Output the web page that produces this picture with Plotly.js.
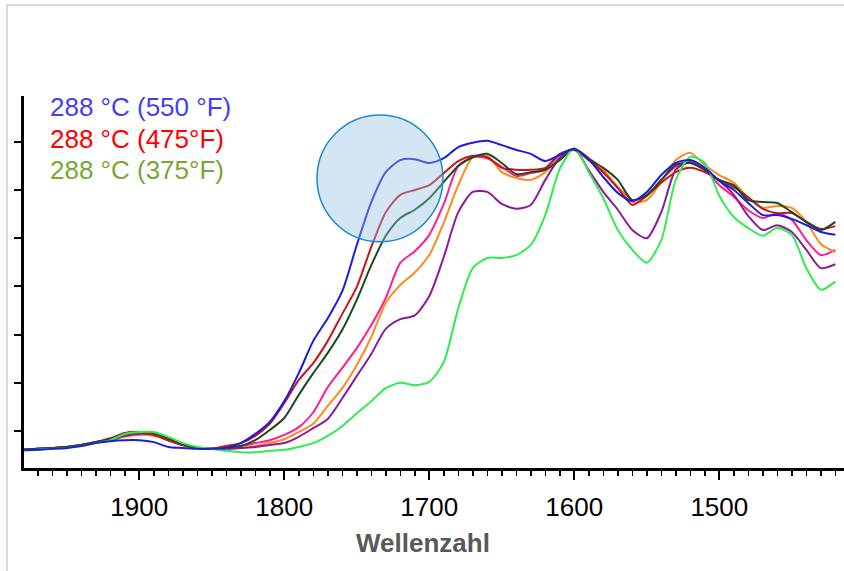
<!DOCTYPE html>
<html>
<head>
<meta charset="utf-8">
<script src="https://cdn.plot.ly/plotly-3.0.1.min.js"></script>
<style>
  html, body { margin: 0; padding: 0; background: #ffffff; }
  #frame { position: absolute; left: 6px; top: 4px; width: 840px; height: 570px;
           border-left: 2px solid #dadada; border-top: 2px solid #dadada; }
  #chart { position: absolute; left: 0; top: 0; width: 844px; height: 571px; }
</style>
</head>
<body>
<div id="frame"></div>
<div id="chart"></div>
<script>
// Wavenumber (cm^-1), read every 10 units from the reference
const wavenumber = [1980,1970,1960,1950,1940,1930,1920,1910,1900,1890,
  1880,1870,1860,1850,1840,1830,1820,1810,1800,1790,
  1780,1770,1760,1750,1740,1730,1720,1710,1700,1690,
  1680,1670,1660,1650,1640,1630,1620,1610,1600,1590,
  1580,1570,1560,1550,1540,1530,1520,1510,1500,1490,
  1480,1470,1460,1450,1440,1430,1420];

const blueSeries = [0.061,0.061,0.063,0.065,0.069,0.075,0.079,0.081,0.081,0.077,
  0.067,0.065,0.063,0.063,0.065,0.075,0.094,0.119,0.162,0.220,
  0.287,0.334,0.390,0.486,0.575,0.637,0.662,0.664,0.656,0.666,
  0.689,0.698,0.702,0.693,0.683,0.675,0.660,0.673,0.685,0.664,
  0.627,0.594,0.577,0.596,0.631,0.656,0.662,0.646,0.619,0.600,
  0.573,0.548,0.548,0.540,0.527,0.513,0.507];

const redSeries = [0.061,0.063,0.065,0.067,0.071,0.077,0.085,0.096,0.098,0.092,
  0.081,0.071,0.065,0.063,0.069,0.075,0.090,0.115,0.158,0.206,
  0.241,0.287,0.343,0.399,0.482,0.554,0.590,0.600,0.610,0.635,
  0.660,0.671,0.668,0.646,0.642,0.642,0.646,0.675,0.683,0.662,
  0.637,0.604,0.569,0.588,0.615,0.637,0.646,0.637,0.621,0.606,
  0.585,0.561,0.552,0.552,0.534,0.519,0.525];

const darkGreenSeries = [0.061,0.063,0.065,0.067,0.071,0.077,0.083,0.094,0.098,0.096,
  0.085,0.073,0.065,0.063,0.065,0.069,0.081,0.102,0.127,0.175,
  0.220,0.262,0.310,0.372,0.444,0.505,0.542,0.559,0.583,0.617,
  0.650,0.668,0.675,0.656,0.633,0.637,0.642,0.662,0.685,0.664,
  0.646,0.621,0.579,0.590,0.621,0.652,0.656,0.642,0.621,0.610,
  0.579,0.575,0.573,0.554,0.534,0.517,0.534];

const pinkSeries = [0.061,0.063,0.065,0.067,0.071,0.077,0.081,0.090,0.094,0.092,
  0.081,0.071,0.065,0.063,0.065,0.069,0.075,0.081,0.092,0.108,
  0.139,0.191,0.231,0.272,0.320,0.376,0.449,0.473,0.507,0.571,
  0.650,0.668,0.666,0.648,0.629,0.635,0.642,0.673,0.685,0.662,
  0.637,0.606,0.579,0.588,0.621,0.648,0.656,0.642,0.610,0.586,
  0.558,0.542,0.552,0.538,0.496,0.465,0.476];

const orangeSeries = [0.061,0.063,0.065,0.067,0.071,0.077,0.081,0.088,0.092,0.090,
  0.081,0.071,0.065,0.063,0.063,0.065,0.069,0.075,0.083,0.098,
  0.115,0.152,0.189,0.237,0.295,0.366,0.403,0.429,0.465,0.532,
  0.610,0.668,0.671,0.637,0.625,0.621,0.637,0.667,0.685,0.667,
  0.642,0.606,0.575,0.579,0.617,0.662,0.677,0.652,0.631,0.615,
  0.583,0.563,0.567,0.563,0.534,0.488,0.471];

const purpleSeries = [0.061,0.063,0.065,0.067,0.071,0.077,0.081,0.090,0.094,0.092,
  0.081,0.071,0.065,0.063,0.063,0.065,0.067,0.071,0.075,0.088,
  0.106,0.125,0.168,0.214,0.260,0.312,0.332,0.340,0.380,0.461,
  0.554,0.596,0.596,0.571,0.561,0.569,0.621,0.667,0.685,0.641,
  0.596,0.559,0.517,0.500,0.554,0.642,0.658,0.641,0.619,0.590,
  0.546,0.517,0.527,0.513,0.476,0.438,0.446];

const greenSeries = [0.059,0.061,0.063,0.065,0.069,0.075,0.081,0.094,0.098,0.098,
  0.088,0.075,0.067,0.063,0.059,0.056,0.056,0.059,0.061,0.067,
  0.075,0.090,0.110,0.137,0.162,0.189,0.200,0.195,0.202,0.243,
  0.355,0.438,0.459,0.459,0.465,0.486,0.548,0.644,0.687,0.637,
  0.583,0.517,0.476,0.449,0.496,0.621,0.669,0.656,0.588,0.544,
  0.521,0.505,0.521,0.507,0.438,0.393,0.410];

const legendLabels = ['288 °C (550 °F)', '288 °C (475°F)', '288 °C (375°F)'];
const legendColors = ['#4040f5', '#ff0000', '#76a832'];

const xTitle = 'Wellenzahl';

const seriesList = [
  {y: pinkSeries, color: '#ff1e8c'},
  {y: orangeSeries, color: '#ff8a1c'},
  {y: purpleSeries, color: '#8c1c96'},
  {y: redSeries, color: '#c8141e'},
  {y: darkGreenSeries, color: '#1c4a1c'},
  {y: greenSeries, color: '#30ec50'},
  {y: blueSeries, color: '#1c1ce0'}
];

const traces = seriesList.map(s => ({
  x: wavenumber, y: s.y, type: 'scatter', mode: 'lines',
  line: {color: s.color, width: 2, shape: 'spline', smoothing: 0.7},
  hoverinfo: 'skip', showlegend: false
}));

const font = '"Liberation Sans", Arial, sans-serif';

const annotations = legendLabels.map((t, i) => ({
  text: t, xref: 'paper', yref: 'paper',
  x: 0.0295, y: [0.970, 0.884, 0.801][i],
  xanchor: 'left', yanchor: 'middle', showarrow: false,
  font: {family: font, size: 26, color: legendColors[i]}
}));

// axis title placed as annotation so it can sit where the reference has it
annotations.push({
  text: '<b>' + xTitle + '</b>', xref: 'paper', yref: 'paper',
  x: 0.4866, y: -0.2016, xanchor: 'center', yanchor: 'middle', showarrow: false,
  font: {family: font, size: 26, color: '#595959'}
});

const layout = {
  width: 844, height: 571,
  margin: {l: 24, r: 0, t: 96, b: 103},
  paper_bgcolor: 'rgba(0,0,0,0)', plot_bgcolor: 'rgba(0,0,0,0)',
  font: {family: font},
  showlegend: false,
  hovermode: false,
  xaxis: {
    range: [1979.5, 1414], autorange: false,
    tickmode: 'linear', tick0: 1500, dtick: 100,
    ticks: 'outside', ticklen: 9, tickwidth: 2, tickcolor: '#000',
    ticklabelstandoff: 5,
    minor: {tickmode: 'linear', tick0: 1500, dtick: 10, ticks: 'outside', ticklen: 5, tickwidth: 1.5, tickcolor: '#000'},
    showline: true, linewidth: 3, linecolor: '#000',
    showgrid: false, zeroline: false, automargin: false,
    tickfont: {family: font, size: 26, color: '#000'}
  },
  yaxis: {
    range: [0.0233, 0.795], autorange: false,
    tickmode: 'linear', tick0: 0, dtick: 0.1,
    ticks: 'outside', ticklen: 7, tickwidth: 2, tickcolor: '#000',
    showticklabels: false,
    showline: true, linewidth: 3, linecolor: '#000',
    showgrid: false, zeroline: false, automargin: false
  },
  shapes: [{
    type: 'circle', xref: 'x', yref: 'y', layer: 'above',
    x0: 1777.4, x1: 1690.6, y0: 0.4927, y1: 0.7556,
    fillcolor: 'rgba(148,193,225,0.4)',
    line: {color: '#1a8ad4', width: 1.5}
  }],
  annotations: annotations
};

Plotly.newPlot('chart', traces, layout, {displayModeBar: false, staticPlot: true});
</script>
</body>
</html>
